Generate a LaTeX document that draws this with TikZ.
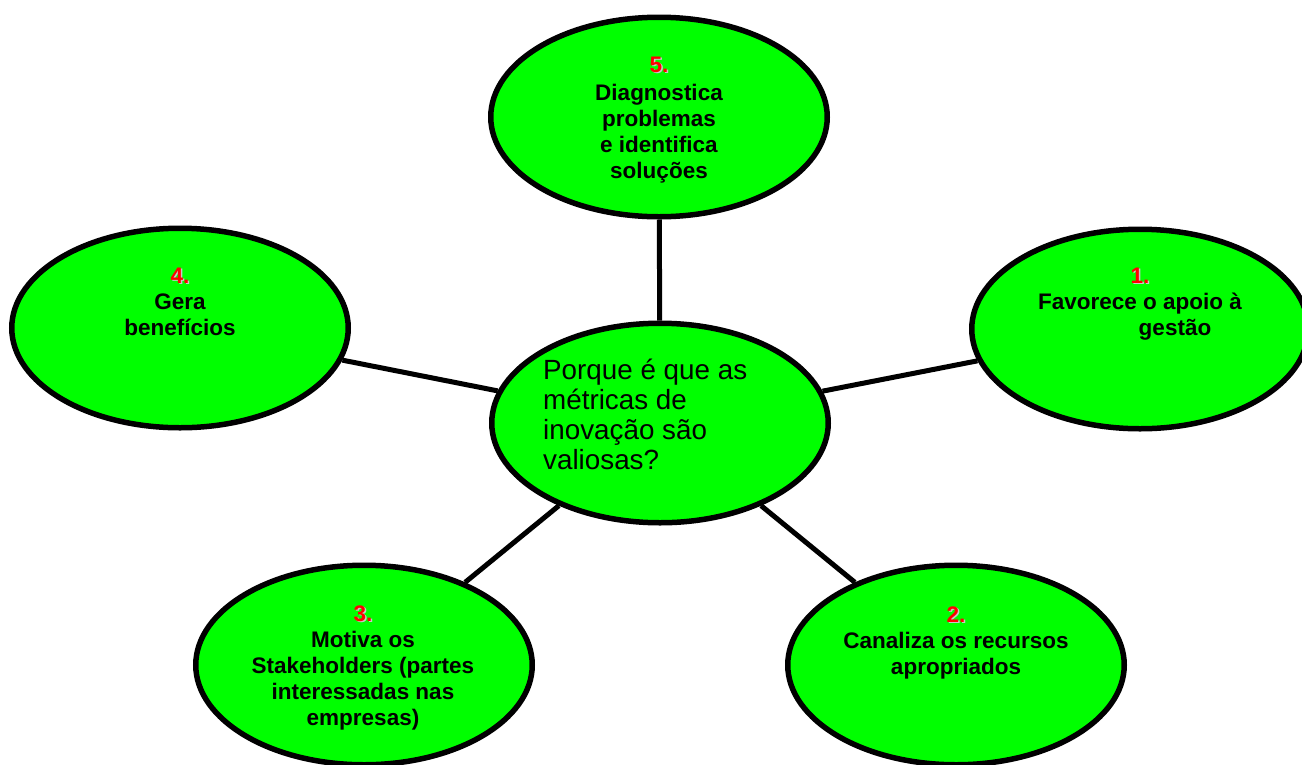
\documentclass[tikz,border=0pt]{standalone}
\usepackage{fontspec}
\setmainfont{Liberation Sans}
\usetikzlibrary{shapes.geometric}
\definecolor{bubblegreen}{HTML}{00FF00}
\definecolor{numred}{HTML}{FF0000}
\definecolor{numshadow}{HTML}{C8C8C8}
\newcommand{\rnum}[1]{\makebox[0pt][l]{\kern1.4pt\raisebox{-1.4pt}{\textcolor{numshadow}{#1}}}\textcolor{numred}{#1}}
\tikzset{
  bubble/.style={ellipse, draw=black, line width=5.5pt, fill=bubblegreen,
    minimum width=336.5pt, minimum height=199.5pt, inner sep=0pt},
  link/.style={line width=5pt, draw=black},
  lbl/.style={font=\bfseries\fontsize{22.5}{26}\selectfont, align=center,
    inner sep=0pt, anchor=base},
  qlbl/.style={font=\fontsize{27.8}{30}\selectfont, align=left,
    inner sep=0pt, anchor=base west},
}
\begin{document}
\begin{tikzpicture}[x=1pt,y=-1pt]
\useasboundingbox (0,0) rectangle (1302,764);
% bubbles
\node[bubble] (c)  at (660,423) {};
\node[bubble] (n5) at (659,117) {};
\node[bubble] (n4) at (180,328) {};
\node[bubble] (n1) at (1140,329) {};
\node[bubble] (n3) at (364,665) {};
\node[bubble] (n2) at (956,665) {};
% connectors
\draw[link] (c) -- (n5);
\draw[link] (c) -- (n4);
\draw[link] (c) -- (n1);
\draw[link] (c) -- (n3);
\draw[link] (c) -- (n2);
% texts (anchor = baseline of the last line)
\node[qlbl] (tc) at (543,469) {Porque é que as\\métricas de\\inovação são\\valiosas?};
\node[lbl] (t5) at (659,178) {\rnum{5.}\\[2pt]Diagnostica\\problemas\\e identifica\\soluções};
\node[lbl] (t4) at (180,335) {\rnum{4.}\\Gera\\benefícios};
\node[lbl] (t1) at (1140,335) {\rnum{1.}\\Favorece o apoio à\\\hspace*{70pt}gestão};
\node[lbl] (t3) at (363,725) {\rnum{3.}\\Motiva os\\Stakeholders (partes\\interessadas nas\\empresas)};
\node[lbl] (t2) at (956,674) {\rnum{2.}\\Canaliza os recursos\\apropriados};
\end{tikzpicture}
\end{document}
